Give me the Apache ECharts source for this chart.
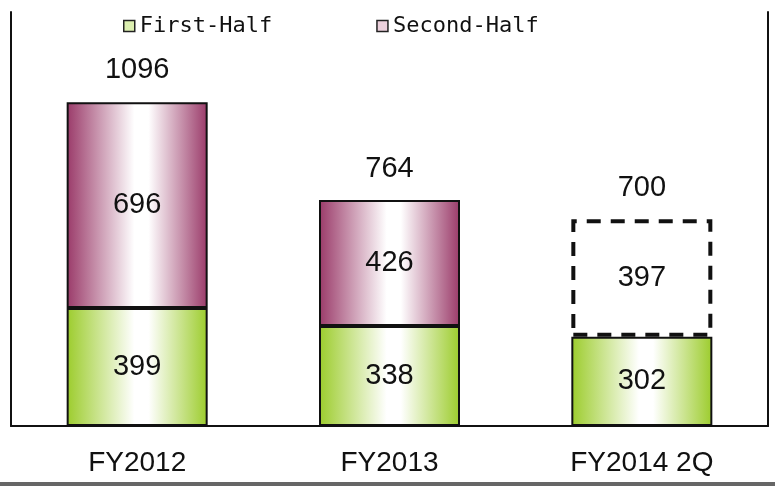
<!DOCTYPE html>
<html>
<head>
<meta charset="utf-8">
<script src="https://cdn.jsdelivr.net/npm/echarts@6/dist/echarts.min.js"></script>
<style>
  html, body { margin: 0; padding: 0; background: #fff; }
  #chart { width: 775px; height: 486px; }
</style>
</head>
<body>
<div id="chart"></div>
<script>
// Fiscal periods and half-year values
const categories = ['FY2012', 'FY2013', 'FY2014 2Q'];
const firstHalf = [399, 338, 302];
const secondHalf = [696, 426, 397];
const totals = [1096, 764, 700];
const seriesNames = ['First-Half', 'Second-Half'];
// The last period's second half is a forecast, drawn as a dashed outline
const forecastIndex = 2;

const GREEN = '#9ccc2c';
const PLUM = '#9a3a69';
const NUM_FONT = 'Liberation Sans, Arial, sans-serif';

function sheen(c) {
  return new echarts.graphic.LinearGradient(0, 0, 1, 0, [
    { offset: 0, color: c },
    { offset: 0.48, color: '#ffffff' },
    { offset: 0.58, color: '#ffffff' },
    { offset: 1, color: c }
  ]);
}

const BAR_W = 141;

const chart = echarts.init(document.getElementById('chart'), null, { renderer: 'canvas' });

chart.setOption({
  animation: false,
  backgroundColor: '#ffffff',
  grid: { left: 11, right: 7, top: 12, bottom: 60 },
  legend: {
    left: 118,
    top: 10,
    itemWidth: 11,
    itemHeight: 11,
    itemGap: 104,
    icon: 'rect',
    textStyle: { fontFamily: 'DejaVu Sans Mono, monospace', fontSize: 22, color: '#111' },
    data: [
      { name: seriesNames[0], itemStyle: { color: '#dcefb0', borderColor: '#222', borderWidth: 1.5 } },
      { name: seriesNames[1], itemStyle: { color: '#ecd0dc', borderColor: '#222', borderWidth: 1.5 } }
    ]
  },
  xAxis: {
    type: 'category',
    data: categories,
    axisLine: { lineStyle: { color: '#111', width: 2 } },
    axisTick: { inside: true, length: 8, lineStyle: { color: '#111', width: 2 } },
    axisLabel: { fontFamily: NUM_FONT, fontSize: 28, color: '#111', margin: 23 }
  },
  yAxis: [
    {
      type: 'value', min: 0, max: 1400,
      axisLine: { show: true, lineStyle: { color: '#111', width: 2 } },
      axisTick: { show: false }, axisLabel: { show: false }, splitLine: { show: false }
    },
    {
      type: 'value', min: 0, max: 1400, position: 'right',
      axisLine: { show: true, lineStyle: { color: '#111', width: 2 } },
      axisTick: { show: false }, axisLabel: { show: false }, splitLine: { show: false }
    }
  ],
  series: [
    {
      name: seriesNames[0],
      type: 'bar',
      stack: 'year',
      barWidth: BAR_W,
      data: firstHalf,
      itemStyle: { color: sheen(GREEN), borderColor: '#111', borderWidth: 2 },
      label: { show: true, position: 'inside', fontFamily: NUM_FONT, fontSize: 29, color: '#111' },
      z: 3
    },
    {
      name: seriesNames[1],
      type: 'bar',
      stack: 'year',
      barWidth: BAR_W,
      data: secondHalf.map((v, i) => i === forecastIndex
        ? { value: v, itemStyle: { color: '#ffffff', borderColor: '#111', borderWidth: 4, borderType: [14, 10] } }
        : v),
      itemStyle: { color: sheen(PLUM), borderColor: '#111', borderWidth: 2 },
      label: { show: true, position: 'inside', fontFamily: NUM_FONT, fontSize: 29, color: '#111' },
      z: 4
    },
    {
      name: 'Total',
      type: 'bar',
      barWidth: BAR_W,
      barGap: '-100%',
      data: totals,
      itemStyle: { color: 'rgba(0,0,0,0)' },
      label: { show: true, position: 'top', distance: 17, fontFamily: NUM_FONT, fontSize: 29, color: '#111' },
      silent: true,
      z: 1
    }
  ],
  graphic: [
    { type: 'rect', shape: { x: 0, y: 482, width: 775, height: 4 }, style: { fill: '#666' } }
  ]
});
</script>
</body>
</html>
